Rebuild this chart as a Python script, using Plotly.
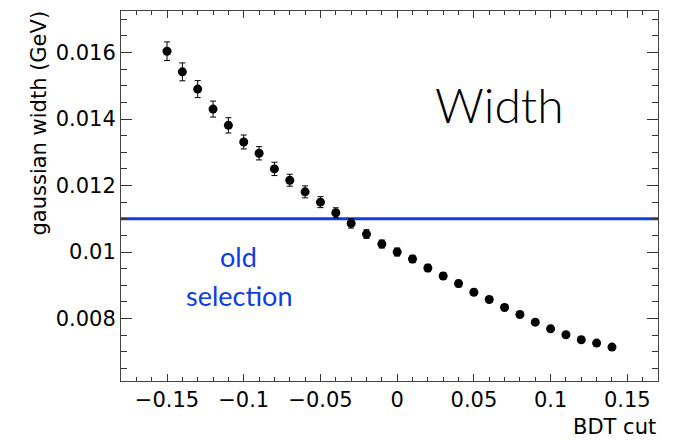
import plotly.graph_objects as go

# BDT cut scan: fitted gaussian width of the signal peak
bdt_cut = [-0.15, -0.14, -0.13, -0.12, -0.11, -0.10, -0.09, -0.08, -0.07, -0.06,
           -0.05, -0.04, -0.03, -0.02, -0.01, 0.00, 0.01, 0.02, 0.03, 0.04,
           0.05, 0.06, 0.07, 0.08, 0.09, 0.10, 0.11, 0.12, 0.13, 0.14]
width = [0.01604, 0.01542, 0.01490, 0.01430, 0.01381, 0.01331, 0.01297, 0.01250, 0.01216, 0.01181,
         0.01150, 0.01118, 0.01086, 0.01054, 0.01024, 0.01000, 0.00979, 0.00952, 0.00928, 0.00905,
         0.00879, 0.00857, 0.00833, 0.00812, 0.00789, 0.00769, 0.00751, 0.00736, 0.00726, 0.00714]
width_err = [0.00028, 0.00027, 0.000255, 0.00024, 0.00023, 0.00021, 0.00020, 0.00020, 0.00018, 0.00018,
             0.000165, 0.00015, 0.00014, 0.00013, 0.00012, 0.00012, 0.00011, 0.00011, 0.00010, 0.00010,
             0.00009, 0.00009, 0.00009, 0.00008, 0.00008, 0.00008, 0.00007, 0.00007, 0.00007, 0.00007]

old_selection_width = 0.011

x_tickvals = [-0.15, -0.10, -0.05, 0.0, 0.05, 0.10, 0.15]
x_ticktext = ["\u22120.15", "\u22120.1", "\u22120.05", "0", "0.05", "0.1", "0.15"]
y_tickvals = [0.008, 0.010, 0.012, 0.014, 0.016]
y_ticktext = ["0.008", "0.01", "0.012", "0.014", "0.016"]

x_range = [-0.18, 0.17]
y_range = [0.00612, 0.01725]

BLUE = "#0f3ce4"
AXIS_FONT = dict(family="DejaVu Sans, Liberation Sans, Arial", size=21, color="black")
LABEL_FAMILY = "Lato, Noto Sans"

fig = go.Figure()

# reference level of the previous selection
fig.add_trace(go.Scatter(
    x=x_range, y=[old_selection_width, old_selection_width],
    mode="lines", line=dict(color=BLUE, width=3),
    hoverinfo="skip", showlegend=False,
))

fig.add_trace(go.Scatter(
    x=bdt_cut, y=width,
    mode="markers",
    marker=dict(color="black", size=9, symbol="circle"),
    error_y=dict(type="data", array=width_err, color="black", thickness=1, width=3),
    showlegend=False,
))

L, R, T, B = 121, 21, 11, 60
W, H = 679, 441
pw, ph = W - L - R, H - T - B


def px(xp):
    return (xp - L) / pw


def py(yp):
    return (H - B - yp) / ph


fig.add_annotation(x=px(499), y=py(104), xref="paper", yref="paper",
                   text="Width", showarrow=False,
                   font=dict(family=LABEL_FAMILY, size=48, color="black", weight=300),
                   xanchor="center", yanchor="middle")
fig.add_annotation(x=px(238), y=py(256), xref="paper", yref="paper",
                   text="old", showarrow=False,
                   font=dict(family=LABEL_FAMILY, size=27, color=BLUE),
                   xanchor="center", yanchor="middle")
fig.add_annotation(x=px(239), y=py(295), xref="paper", yref="paper",
                   text="selection", showarrow=False,
                   font=dict(family=LABEL_FAMILY, size=27, color=BLUE),
                   xanchor="center", yanchor="middle")

# axis titles placed ROOT-style at the far end of each axis
fig.add_annotation(x=px(658), y=py(427), xref="paper", yref="paper",
                   text="BDT cut", showarrow=False, font=AXIS_FONT,
                   xanchor="right", yanchor="middle")
fig.add_annotation(x=px(38), y=py(9), xref="paper", yref="paper",
                   text="gaussian width (GeV)", showarrow=False, font=AXIS_FONT,
                   textangle=-90, xanchor="center", yanchor="top")

fig.update_xaxes(
    range=x_range, tickvals=x_tickvals, ticktext=x_ticktext,
    ticks="inside", ticklen=7, tickwidth=1, tickcolor="#333",
    minor=dict(dtick=0.01, tick0=0, ticks="inside", ticklen=4, tickwidth=1, tickcolor="#333"),
    showline=True, linecolor="#444", linewidth=1, mirror="ticks",
    showgrid=False, zeroline=False, tickfont=AXIS_FONT,
)
fig.update_yaxes(
    range=y_range, tickvals=y_tickvals, ticktext=y_ticktext,
    ticks="inside", ticklen=11, tickwidth=1, tickcolor="#333",
    minor=dict(dtick=0.0005, tick0=0, ticks="inside", ticklen=6, tickwidth=1, tickcolor="#333"),
    showline=True, linecolor="#444", linewidth=1, mirror="ticks",
    showgrid=False, zeroline=False, tickfont=AXIS_FONT,
)

fig.update_layout(
    width=W, height=H,
    margin=dict(l=L, r=R, t=T, b=B),
    plot_bgcolor="white", paper_bgcolor="white",
)

fig.write_html("out.html")
